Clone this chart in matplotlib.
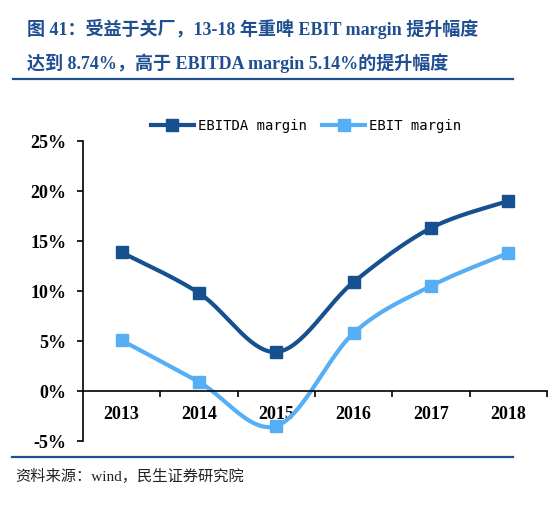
import numpy as np
import matplotlib
matplotlib.use("Agg")
import matplotlib.pyplot as plt
from matplotlib.lines import Line2D

years = ["2013", "2014", "2015", "2016", "2017", "2018"]
ebitda_margin = [13.86, 9.8, 3.9, 10.9, 16.3, 19.0]
ebit_margin = [5.06, 0.9, -3.5, 5.8, 10.5, 13.8]
y_ticks = [-5, 0, 5, 10, 15, 20, 25]

title_1 = "图 41：受益于关厂，13-18 年重啤 EBIT margin 提升幅度"
title_2 = "达到 8.74%，高于 EBITDA margin 5.14%的提升幅度"
source = "资料来源：wind，民生证券研究院"

dark_blue = "#16508f"
light_blue = "#56aef5"
title_blue = "#1f4f91"
serif = ["Liberation Serif", "Noto Sans CJK SC"]


def smooth(xs, ys, n=30):
    # excel-style smoothed line: catmull-rom turned into cubic bezier pieces
    xs = np.asarray(xs, float)
    ys = np.asarray(ys, float)
    px = np.concatenate([[xs[0]], xs, [xs[-1]]])
    py = np.concatenate([[ys[0]], ys, [ys[-1]]])
    outx, outy = [], []
    t = np.linspace(0, 1, n)
    for i in range(1, len(px) - 2):
        p0 = np.array([px[i], py[i]])
        p3 = np.array([px[i + 1], py[i + 1]])
        c1 = p0 + (np.array([px[i + 1], py[i + 1]]) - np.array([px[i - 1], py[i - 1]])) / 6
        c2 = p3 - (np.array([px[i + 2], py[i + 2]]) - np.array([px[i], py[i]])) / 6
        b = ((1 - t) ** 3)[:, None] * p0 + (3 * (1 - t) ** 2 * t)[:, None] * c1 \
            + (3 * (1 - t) * t ** 2)[:, None] * c2 + (t ** 3)[:, None] * p3
        outx.extend(b[:, 0])
        outy.extend(b[:, 1])
    return outx, outy


fig = plt.figure(figsize=(5.54, 5.05), dpi=100)

fig.text(27 / 554, 1 - 29 / 505, title_1, family=serif, fontsize=13,
         fontweight="bold", color=title_blue, va="center", ha="left")
fig.text(27 / 554, 1 - 63 / 505, title_2, family=serif, fontsize=13,
         fontweight="bold", color=title_blue, va="center", ha="left")
fig.add_artist(Line2D([13 / 554, 513 / 554], [1 - 79 / 505, 1 - 79 / 505],
                      color=title_blue, lw=1.6))
fig.add_artist(Line2D([12 / 554, 513 / 554], [1 - 457 / 505, 1 - 457 / 505],
                      color=title_blue, lw=1.6))
fig.text(15 / 554, 1 - 476 / 505, source, family=serif,
         fontsize=11, color="#222222", va="center", ha="left")

ax = fig.add_axes([83 / 554, 1 - 441 / 505, (547 - 83) / 554, 300 / 505])
x = np.arange(len(years))

for vals, col in [(ebitda_margin, dark_blue), (ebit_margin, light_blue)]:
    sx, sy = smooth(x, vals)
    ax.plot(sx, sy, color=col, lw=3, solid_capstyle="round", zorder=2)
    ax.plot(x, vals, ls="none", marker="s", ms=8, color=col, zorder=3)

ax.set_xlim(-0.5, len(years) - 0.5)
ax.set_ylim(-5, 25)
ax.spines["top"].set_visible(False)
ax.spines["right"].set_visible(False)
ax.spines["bottom"].set_position(("data", 0))
ax.spines["left"].set_linewidth(1.2)
ax.spines["bottom"].set_linewidth(1.2)

ax.set_yticks(y_ticks)
ax.set_yticklabels([f"{v}%" for v in y_ticks], family=serif, fontsize=13,
                   fontweight="bold")
ax.tick_params(axis="y", direction="out", length=4, width=1.2, pad=8)

ax.set_xticks(x)
ax.set_xticklabels(years, family=serif, fontsize=13, fontweight="bold")
ax.tick_params(axis="x", which="major", length=0, pad=11)
ax.set_xticks(np.arange(0.5, len(years)), minor=True)
ax.tick_params(axis="x", which="minor", direction="out", length=4, width=1.2)

handles = [Line2D([], [], color=dark_blue, lw=3, marker="s", ms=8),
           Line2D([], [], color=light_blue, lw=3, marker="s", ms=8)]
fig.legend(handles, ["EBITDA margin", "EBIT margin"], loc="center",
           bbox_to_anchor=(306 / 554, 1 - 126 / 505), ncol=2, frameon=False,
           prop={"family": "DejaVu Sans Mono", "size": 10},
           handlelength=3.1, handletextpad=0.3, columnspacing=1.1)

fig.savefig("out.png", dpi=100)
